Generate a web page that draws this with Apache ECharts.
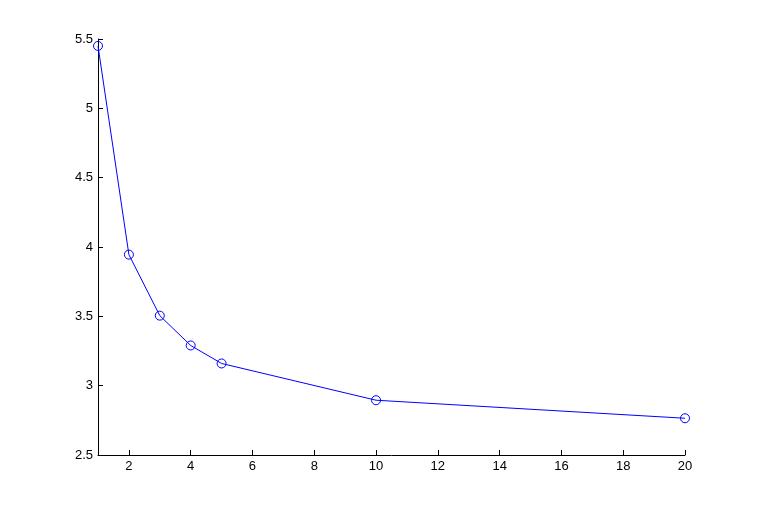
<!DOCTYPE html>
<html>
<head>
<meta charset="utf-8">
<script src="https://cdn.jsdelivr.net/npm/echarts@6/dist/echarts.min.js"></script>
<style>html,body{margin:0;padding:0;background:#fff;}#c{width:757px;height:511px;}</style>
</head>
<body>
<div id="c"></div>
<script>
var xValues = [1, 2, 3, 4, 5, 10, 20];
var yValues = [5.45, 3.945, 3.505, 3.29, 3.16, 2.895, 2.765];
var xTicks = [2, 4, 6, 8, 10, 12, 14, 16, 18, 20];

var chart = echarts.init(document.getElementById('c'), null, {renderer: 'canvas'});
chart.setOption({
  animation: false,
  backgroundColor: '#ffffff',
  grid: {left: 98, top: 39, right: 72, bottom: 56, containLabel: false},
  xAxis: {
    type: 'value', min: 1, max: 20,
    axisLine: {show: true, onZero: false, lineStyle: {color: '#000', width: 1}},
    axisTick: {show: true, inside: true, length: 5, customValues: xTicks, lineStyle: {color: '#000'}},
    axisLabel: {customValues: xTicks, color: '#000', fontFamily: 'Liberation Sans, Arial', fontSize: 13, margin: 5},
    splitLine: {show: false}
  },
  yAxis: {
    type: 'value', min: 2.5, max: 5.5, interval: 0.5,
    axisLine: {show: true, onZero: false, lineStyle: {color: '#000', width: 1}},
    axisTick: {show: true, inside: true, length: 5, lineStyle: {color: '#000'}},
    axisLabel: {color: '#000', fontFamily: 'Liberation Sans, Arial', fontSize: 13, margin: 5},
    splitLine: {show: false}
  },
  series: [{
    type: 'line',
    data: xValues.map(function (x, i) { return [x, yValues[i]]; }),
    symbol: 'circle',
    symbolSize: 9,
    itemStyle: {color: 'rgba(0,0,0,0)', borderColor: '#0000ff', borderWidth: 1},
    lineStyle: {color: '#0000ff', width: 1},
    clip: false
  }]
});
</script>
</body>
</html>
